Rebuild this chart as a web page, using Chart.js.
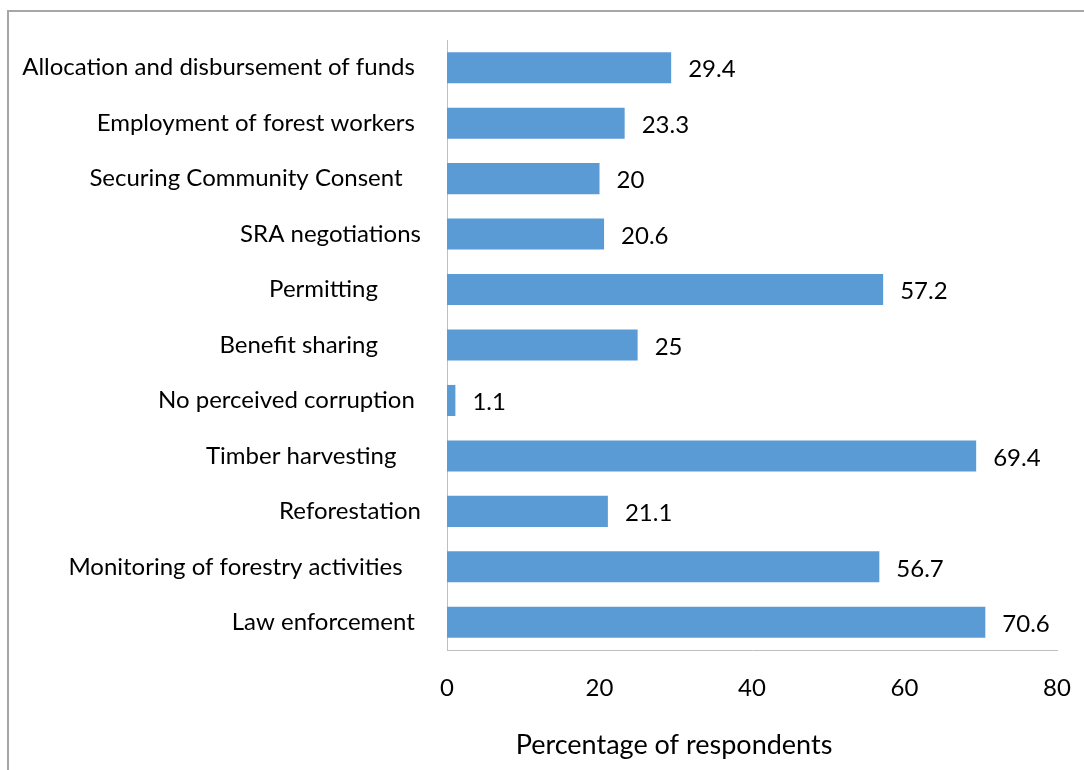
<!DOCTYPE html>
<html>
<head>
<meta charset="utf-8">
<script src="https://cdn.jsdelivr.net/npm/chart.js@4"></script>
<style>
  html, body { margin: 0; padding: 0; background: #fff; }
  #wrap { width: 1084px; height: 770px; position: relative; }
</style>
</head>
<body>
<div id="wrap"><canvas id="chart"></canvas></div>
<script>
// categories top to bottom, trailing spaces kept as in the source labels
const categories = [
    'Allocation and disbursement of funds ',
    'Employment of forest workers ',
    'Securing Community Consent   ',
    'SRA negotiations',
    'Permitting       ',
    'Benefit sharing       ',
    'No perceived corruption ',
    'Timber harvesting    ',
    'Reforestation',
    'Monitoring of forestry activities   ',
    'Law enforcement '
];
const percentages = [29.4, 23.3, 20, 20.6, 57.2, 25, 1.1, 69.4, 21.1, 56.7, 70.6];
const xTicks = [0, 20, 40, 60, 80];
const xTitle = 'Percentage of respondents';

const FONT = 'Lato, Calibri, Carlito, sans-serif';

// value labels drawn just right of each bar
const valueLabels = {
    id: 'valueLabels',
    afterDatasetsDraw(chart) {
        const ctx = chart.ctx;
        const meta = chart.getDatasetMeta(0);
        ctx.save();
        ctx.font = '24px ' + FONT;
        ctx.fillStyle = '#000';
        ctx.textAlign = 'left';
        ctx.textBaseline = 'middle';
        meta.data.forEach((bar, i) => {
            ctx.fillText(String(percentages[i]), bar.x + 17, bar.y + 2);
        });
        ctx.restore();
    }
};

// thin grey frame along top and left edges, plus the axis title
const frame = {
    id: 'frame',
    beforeDraw(chart) {
        const ctx = chart.ctx;
        ctx.save();
        ctx.strokeStyle = '#a6a6a6';
        ctx.lineWidth = 2;
        ctx.beginPath();
        ctx.moveTo(8, 770);
        ctx.lineTo(8, 11);
        ctx.lineTo(1084, 11);
        ctx.stroke();
        ctx.font = '27px ' + FONT;
        ctx.fillStyle = '#000';
        ctx.textAlign = 'center';
        ctx.textBaseline = 'middle';
        ctx.fillText(xTitle, 674, 745);
        ctx.restore();
    }
};

const ctx = document.getElementById('chart').getContext('2d');
const chart = new Chart(ctx, {
    type: 'bar',
    data: {
        labels: categories,
        datasets: [{
            data: percentages,
            backgroundColor: '#5b9bd5',
            barPercentage: 0.56,
            categoryPercentage: 1
        }]
    },
    options: {
        indexAxis: 'y',
        responsive: true,
        maintainAspectRatio: false,
        animation: false,
        layout: { padding: { top: 40, right: 27, left: 0, bottom: 0 } },
        plugins: {
            legend: { display: false },
            tooltip: { enabled: false }
        },
        scales: {
            x: {
                min: 0,
                max: 80,
                afterBuildTicks: (s) => { s.ticks = xTicks.map(v => ({ value: v })); },
                afterFit: (s) => {
                    s.height = 120;
                    s.paddingLeft = 0;
                    s.paddingRight = 0;
                },
                grid: { display: false, drawTicks: false },
                border: { display: true, color: '#bfbfbf', width: 1 },
                ticks: {
                    color: '#000',
                    padding: 24,
                    font: { family: FONT, size: 24 }
                }
            },
            y: {
                afterFit: (s) => {
                    s.width = 447;
                    s.paddingTop = 0;
                    s.paddingBottom = 0;
                },
                grid: { display: false, drawTicks: false },
                border: { display: true, color: '#bfbfbf', width: 1 },
                ticks: {
                    color: '#000',
                    padding: 26,
                    font: { family: FONT, size: 24 }
                }
            }
        }
    },
    plugins: [frame, valueLabels]
});
</script>
</body>
</html>
